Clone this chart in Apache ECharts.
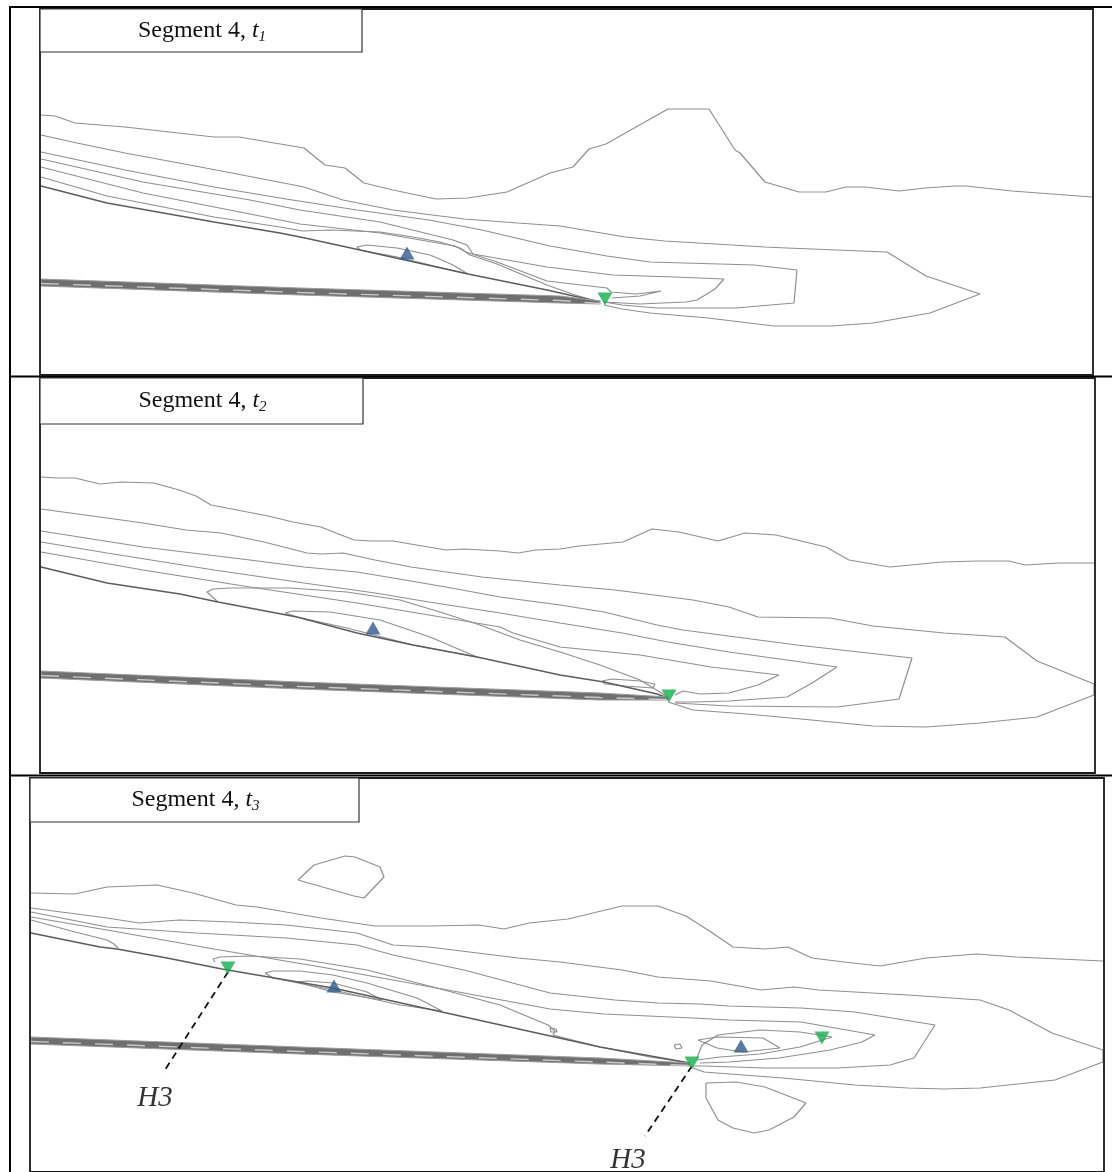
<!DOCTYPE html>
<html><head><meta charset="utf-8">
<script src="https://cdn.jsdelivr.net/npm/echarts@6/dist/echarts.min.js"></script>
<style>html,body{margin:0;padding:0;background:#fff}#c{width:1112px;height:1172px}</style>
</head><body><div id="c"></div>
<script>
// ---------- Panel 1 (t1) contour lines ----------
const p1A = [[41,115],[55,116],[75,123],[125,127],[214,137],[239,137],[304,148],[325,165],[345,168],[364,183],[393,190],[436,199],[468,198],[507,192],[550,173],[573,167],[589,149],[606,144],[636,127],[668,109],[690,109],[709,109],[735,150],[740,153],[765,182],[799,192],[826,192],[846,187],[865,187],[899,191],[925,188],[955,186],[966,186],[1012,191],[1092,197]];
const p1B = [[41,135],[77,143],[125,153],[179,163],[232,173],[304,187],[343,200],[393,210],[464,219],[518,223],[560,226],[625,237],[665,241],[765,247],[787,248],[887,252],[926,276],[980,294],[930,313],[873,323],[831,326],[774,326],[708,318],[650,313],[622,309],[604,305]];
const p1C = [[41,152],[125,170],[214,187],[286,199],[357,210],[429,220],[482,230],[550,246],[607,256],[650,262],[754,265],[797,270],[794,303],[736,308],[657,308],[622,305],[604,302]];
const p1D = [[41,159],[143,182],[250,200],[300,210],[380,222],[453,240],[467,245],[473,254],[547,267],[613,275],[675,277],[724,279],[715,289],[697,300],[686,302],[640,304],[604,302]];
const p1E = [[41,167],[143,193],[250,214],[300,224],[380,233],[455,246],[466,252],[497,262],[547,281],[590,286],[607,288],[611,292],[636,294],[661,291],[640,296],[612,298]];
const p1F = [[41,177],[107,196],[214,217],[280,227],[303,231],[330,230],[380,232],[413,237],[440,242],[460,248],[470,255],[497,264],[547,285],[575,295],[600,302]];
const p1Plate = [[41,186],[107,203],[214,222],[280,233],[305,238],[360,250],[468,274],[547,290],[600,302]];
const p1Inner = [[357,247],[367,245],[397,248],[430,255],[453,265],[468,274],[430,265],[397,257],[360,250],[357,247]];
const p1BandTop = [[41,279],[300,288],[560,296],[600,301]];
const p1BandBot = [[600,304],[560,303],[300,295],[41,286]];
const p1Blue = [[407,253]];
const p1Green = [[605,299]];

// ---------- Panel 2 (t2) ----------
const p2A = [[41,477],[57,478],[75,478],[100,484],[121,482],[154,483],[179,490],[196,496],[211,505],[232,509],[268,516],[293,522],[321,527],[336,533],[354,540],[371,541],[393,541],[446,550],[464,549],[500,551],[518,553],[536,550],[560,549],[579,546],[623,542],[652,529],[679,532],[718,541],[745,533],[776,535],[826,547],[849,560],[890,567],[942,562],[978,561],[1009,561],[1025,565],[1059,563],[1094,563]];
const p2B = [[41,509],[107,518],[143,523],[186,530],[221,533],[264,542],[307,553],[321,554],[343,553],[375,560],[411,567],[482,577],[560,585],[615,590],[693,600],[729,607],[758,617],[830,618],[873,626],[944,633],[1005,637],[1037,661],[1094,684],[1094,695],[1037,717],[980,723],[926,727],[873,726],[801,719],[747,714],[693,710],[668,702]];
const p2C = [[41,531],[143,547],[250,560],[304,567],[357,572],[393,578],[446,587],[500,597],[560,605],[604,612],[657,625],[683,630],[736,637],[797,645],[912,658],[899,699],[837,707],[729,706],[675,703]];
const p2D = [[41,542],[107,553],[214,570],[304,583],[375,593],[429,602],[500,613],[560,623],[622,633],[668,642],[729,652],[837,667],[812,683],[787,697],[729,701],[693,702],[675,702]];
const p2E = [[41,552],[143,570],[250,587],[357,603],[429,615],[500,627],[513,633],[560,647],[640,655],[711,667],[779,675],[758,685],[729,693],[700,694],[683,691],[675,695]];
const p2Plate = [[41,567],[107,583],[180,594],[218,602],[297,617],[357,633],[413,645],[477,657],[560,675],[604,682],[657,694],[668,698]];
const p2Outer = [[218,602],[207,592],[213,589],[230,588],[290,588],[347,592],[400,600],[440,612],[480,625],[520,640],[560,652],[600,665],[640,680],[668,697]];
const p2Inner = [[285,613],[293,611],[330,612],[380,620],[430,637],[477,657],[413,645],[347,628],[297,617],[285,613]];
const p2Tongue = [[602,681],[612,679],[640,681],[655,684],[653,688],[625,686],[605,684],[602,681]];
const p2BandTop = [[41,671],[300,682],[600,693],[668,697]];
const p2BandBot = [[668,700],[600,700],[300,689],[41,678]];
const p2Blue = [[373,628]];
const p2Green = [[669,696]];

// ---------- Panel 3 (t3) ----------
const p3Island = [[298,880],[314,865],[345,856],[355,857],[380,867],[384,877],[364,898],[354,896],[298,880]];
const p3A = [[31,893],[75,894],[107,887],[157,885],[193,893],[236,905],[257,907],[286,912],[321,918],[375,926],[429,926],[479,925],[504,929],[529,923],[568,919],[622,906],[658,906],[686,916],[711,932],[733,947],[765,949],[788,947],[812,958],[844,962],[880,966],[926,958],[977,954],[1016,957],[1103,961]];
const p3B = [[31,908],[107,918],[139,923],[179,920],[232,922],[286,925],[357,933],[393,945],[429,947],[518,958],[560,962],[622,970],[658,977],[711,981],[761,990],[794,987],[819,990],[908,995],[980,1000],[1009,1010],[1052,1033],[1103,1050],[1103,1062],[1055,1080],[980,1088],[944,1089],[908,1088],[855,1085],[783,1078],[704,1072],[693,1068]];
const p3C = [[31,912],[107,927],[196,933],[286,938],[357,945],[393,955],[464,970],[550,993],[615,1000],[658,1003],[700,1004],[729,1006],[801,1008],[855,1012],[935,1025],[914,1058],[890,1065],[837,1068],[765,1068],[704,1066],[693,1066]];
const p3D = [[31,917],[107,930],[214,949],[321,967],[393,980],[464,993],[550,1009],[604,1014],[693,1018],[729,1020],[801,1022],[875,1035],[862,1042],[830,1050],[779,1058],[729,1062],[700,1063]];
const p3E = [[31,920],[75,932],[107,940],[114,944],[118,948]];
const p3Outer = [[215,962],[213,959],[220,957],[250,956],[300,959],[367,970],[433,987],[500,1005],[548,1025],[555,1031],[553,1035],[600,1047],[650,1057],[690,1063]];
const p3Plate = [[31,933],[100,947],[117,949],[167,958],[222,969],[333,988],[442,1012],[600,1047],[690,1063]];
const p3Inner1 = [[265,973],[273,971],[300,971],[333,975],[367,983],[417,998],[442,1011],[400,1005],[333,990],[273,978],[265,973]];
const p3Inner2 = [[297,982],[307,981],[333,983],[367,992],[382,1000],[333,992],[297,982]];
const p3Right1 = [[697,1058],[702,1045],[718,1035],[760,1030],[800,1032],[832,1037],[800,1047],[760,1054],[720,1057],[697,1060]];
const p3Right2 = [[698,1040],[717,1037],[763,1038],[780,1048],[743,1052],[717,1048],[698,1040]];
const p3Lower = [[706,1083],[736,1082],[765,1087],[806,1103],[794,1117],[769,1130],[754,1133],[733,1128],[718,1120],[706,1098],[706,1083]];
const p3Tiny = [[674,1045],[680,1044],[682,1048],[676,1049],[674,1045]];
const p3Sliver = [[550,1028],[556,1029],[557,1032],[551,1032],[550,1028]];
const p3BandTop = [[31,1037],[300,1047],[600,1058],[690,1063]];
const p3BandBot = [[690,1066],[600,1064],[300,1054],[31,1044]];
const p3Blue = [[334,986],[741,1046]];
const p3Green = [[228,968],[692,1063],[822,1038]];
const p3H3Lines = [[[228,972],[163,1073]],[[692,1066],[645,1136]]];
const p3H3Labels = [[155,1098],[628,1160]];

const panelTitles = ['1','2','3'];

// ---------- build ----------
const CONTOUR = '#8f8f8f', PLATE = '#5c5c5c';
function line(g, pts, color, width, z) {
  return {type:'line', xAxisIndex:g, yAxisIndex:g, data:pts, symbol:'none', showSymbol:false,
    lineStyle:{color:color||CONTOUR, width:width||1.2}, silent:true, z:z||2, animation:false};
}
function band(g, top, bot) {
  const pts = top.concat(bot);
  return [{type:'custom', xAxisIndex:g, yAxisIndex:g, data:[pts[0]], silent:true, z:3, animation:false,
    renderItem:(params, api) => ({type:'polygon', shape:{points: pts.map(p => api.coord(p))},
      style:{fill:'#6f6f6f', stroke:'#9d9d9d', lineWidth:1.2}})},
    {type:'line', xAxisIndex:g, yAxisIndex:g, symbol:'none', silent:true, z:4, animation:false,
      data: top.map((p,i)=>[p[0], (p[1]+bot[bot.length-1-i][1])/2 + 1]),
      lineStyle:{color:'#c9c9c9', width:1.4, type:[18,14]}}];
}
function markers(g, pts, up) {
  return {type:'scatter', xAxisIndex:g, yAxisIndex:g, data:pts, symbol:'triangle',
    symbolSize:[15,13], symbolRotate: up ? 0 : 180, silent:true, z:10, animation:false,
    itemStyle:{color: up ? '#2e5a8c' : '#0fb04a'}};
}

const series = [];
[p1A,p1B,p1C,p1D,p1E,p1F,p1Inner].forEach(p => series.push(line(0,p)));
series.push(line(0,p1Plate,PLATE,1.4));
series.push(...band(0,p1BandTop,p1BandBot));
series.push(markers(0,p1Blue,true), markers(0,p1Green,false));

[p2A,p2B,p2C,p2D,p2E,p2Outer,p2Inner,p2Tongue].forEach(p => series.push(line(1,p)));
series.push(line(1,p2Plate,PLATE,1.4));
series.push(...band(1,p2BandTop,p2BandBot));
series.push(markers(1,p2Blue,true), markers(1,p2Green,false));

[p3Island,p3A,p3B,p3C,p3D,p3E,p3Outer,p3Inner1,p3Inner2,p3Right1,p3Right2,p3Lower,p3Tiny,p3Sliver].forEach(p => series.push(line(2,p)));
series.push(line(2,p3Plate,PLATE,1.4));
series.push(...band(2,p3BandTop,p3BandBot));
p3H3Lines.forEach(l => series.push({type:'line', xAxisIndex:2, yAxisIndex:2, data:l, symbol:'none', silent:true, z:8,
  animation:false, lineStyle:{color:'#111', width:1.8, type:[7,5]}}));
series.push(markers(2,p3Blue,true), markers(2,p3Green,false));
series.push({type:'scatter', xAxisIndex:2, yAxisIndex:2, data:p3H3Labels, symbolSize:0, silent:true, z:9, animation:false,
  label:{show:true, position:'inside', formatter:'H3', color:'#000', fontFamily:'Liberation Serif', fontStyle:'italic', fontSize:29}});

const grids = [
  {left:40, top:9, width:1053, height:366},
  {left:40, top:378, width:1055, height:395},
  {left:30, top:778, width:1074, height:394}
];
const xr = [[40,1093],[40,1095],[30,1104]];
const yr = [[9,375],[378,773],[778,1172]];

const graphics = [];
const T = {stroke:'#000', lineWidth:2};
graphics.push({type:'line', shape:{x1:10,y1:6,x2:10,y2:1172}, style:T});
graphics.push({type:'line', shape:{x1:10,y1:7,x2:1112,y2:7}, style:T});
graphics.push({type:'line', shape:{x1:10,y1:376.5,x2:1112,y2:376.5}, style:T});
graphics.push({type:'line', shape:{x1:10,y1:775.5,x2:1112,y2:775.5}, style:T});
const titleBoxes = [[40,9,322,43],[40,378,323,46],[30,778,329,44]];
grids.forEach((g,i) => {
  graphics.push({type:'rect', z:50, shape:{x:g.left,y:g.top,width:g.width,height:g.height},
    style:{fill:'none', stroke:'#1a1a1a', lineWidth:1.8}});
  const b = titleBoxes[i];
  graphics.push({type:'rect', z:51, shape:{x:b[0],y:b[1],width:b[2],height:b[3]},
    style:{fill:'#fff', stroke:'#333', lineWidth:1.2}});
  graphics.push({type:'text', z:52, x:b[0]+b[2]/2 + 1, y:b[1]+b[3]/2,
    style:{text:'{a|Segment 4, }{b|t}{s|' + panelTitles[i] + '}', align:'center', verticalAlign:'middle',
      rich:{a:{fontFamily:'Liberation Serif', fontSize:24, lineHeight:28, fill:'#111'},
            b:{fontFamily:'Liberation Serif', fontSize:24, lineHeight:28, fontStyle:'italic', fill:'#111'},
            s:{fontFamily:'Liberation Serif', fontSize:15, lineHeight:10, fontStyle:'italic', verticalAlign:'bottom', fill:'#111'}}}});
});

const chart = echarts.init(document.getElementById('c'), null, {renderer:'canvas'});
chart.setOption({
  animation:false,
  grid: grids,
  xAxis: xr.map((r,i)=>({type:'value', gridIndex:i, min:r[0], max:r[1], show:false})),
  yAxis: yr.map((r,i)=>({type:'value', gridIndex:i, min:r[0], max:r[1], inverse:true, show:false})),
  series: series,
  graphic: graphics
});
</script></body></html>
